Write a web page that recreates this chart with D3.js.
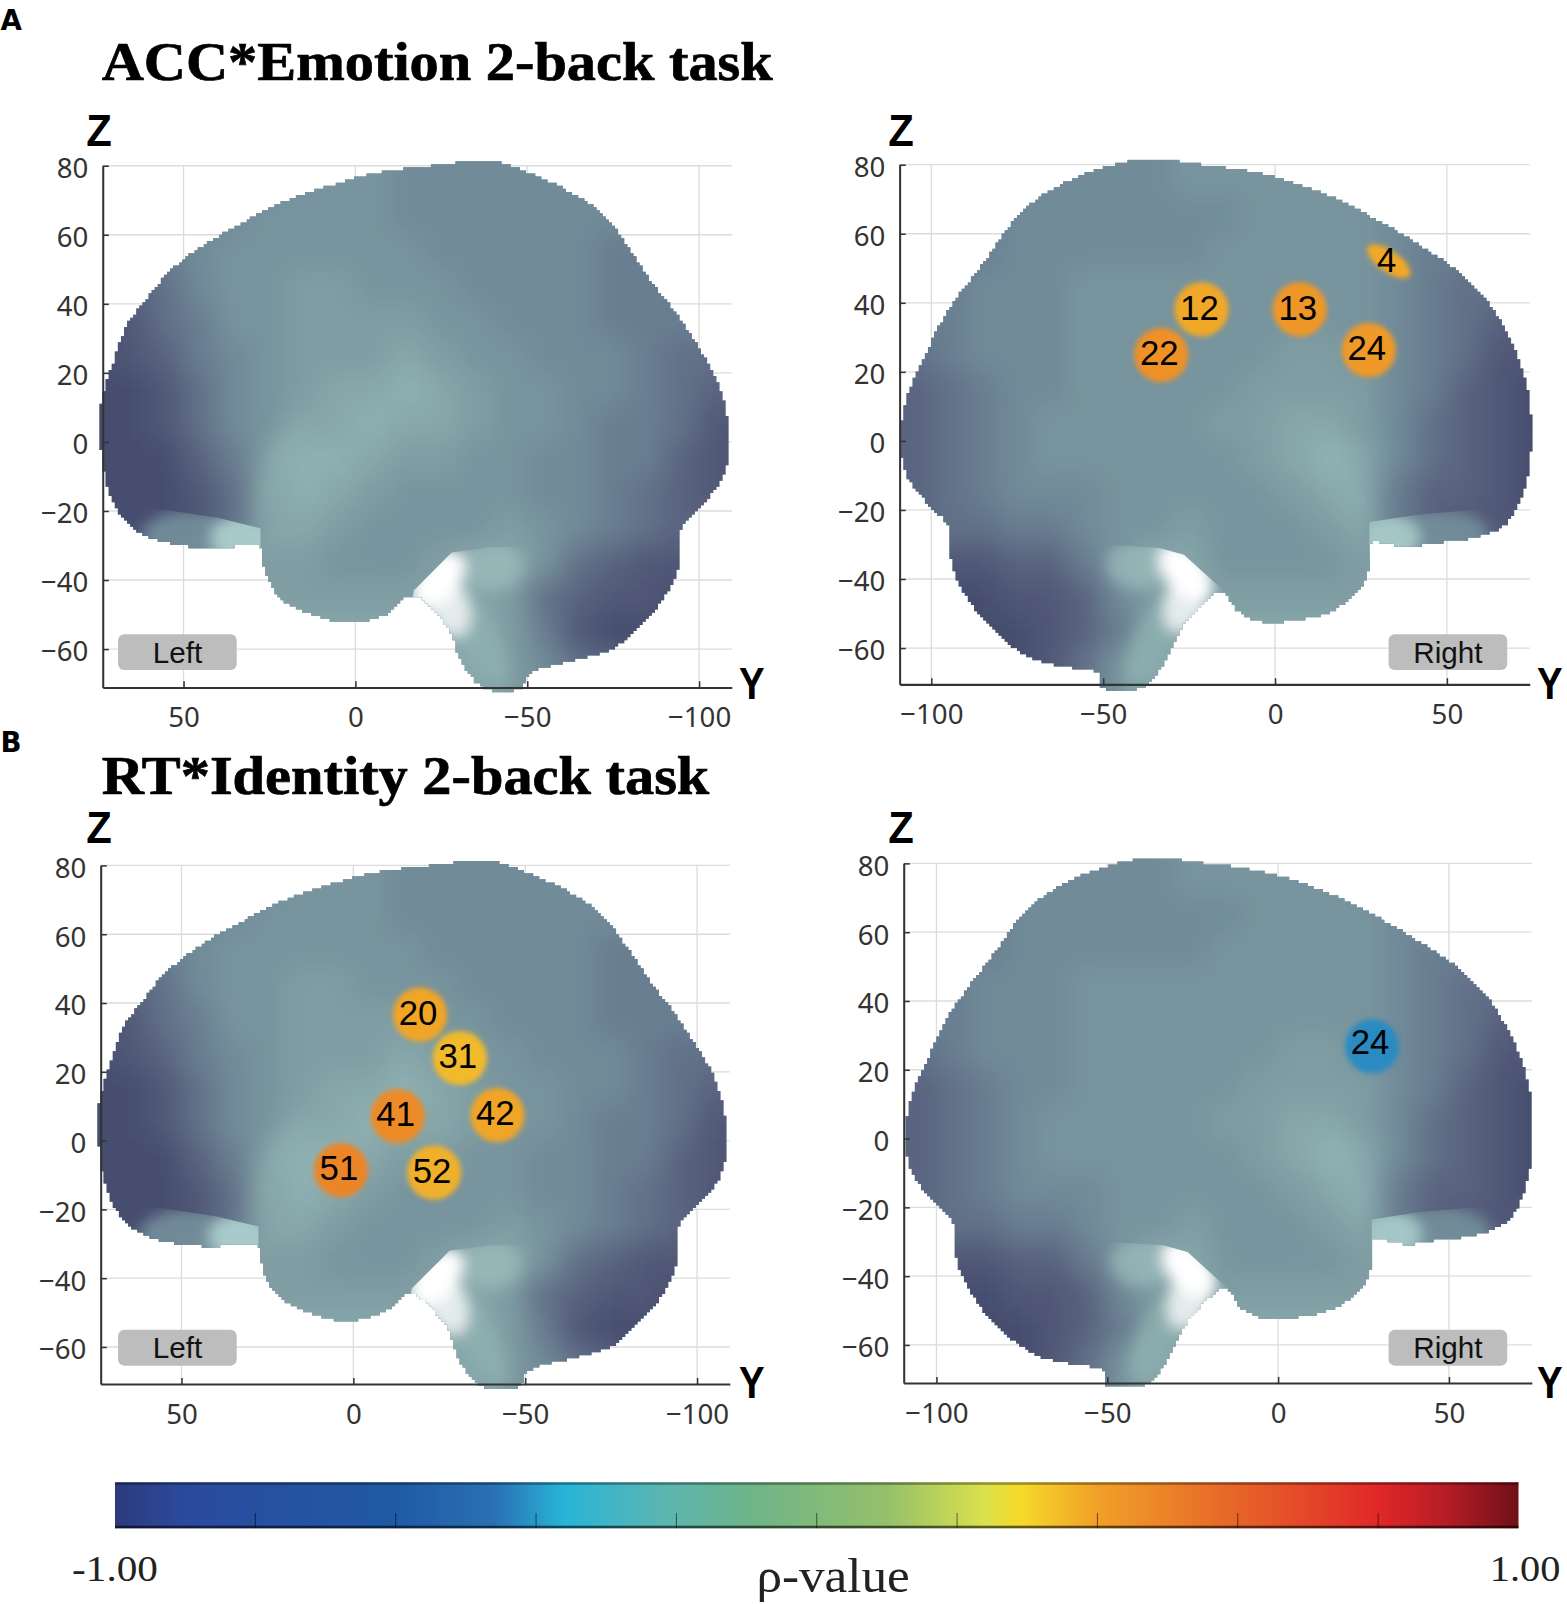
<!DOCTYPE html>
<html><head><meta charset="utf-8">
<script src="https://cdn.jsdelivr.net/npm/d3@7"></script>
<style>html,body{margin:0;padding:0;background:#fff}svg{display:block}</style>
</head><body><svg id="c"></svg>
<script>
// ---------- values ----------
const zTicks=[80,60,40,20,0,-20,-40,-60];
const yTicks=[50,0,-50,-100];
// brain outlines as [Y,Z] in mm
const outlineLeft=[[-30.5,81],[-41.4,81],[-51.6,77.5],[-61.8,72.8],[-72,66],[-79.3,56.7],[-86.6,45.9],[-93.9,36.5],[-99.7,27.7],[-104.8,19],[-107.7,9.6],[-108.9,0],[-107.7,-8],[-104,-14.7],[-99,-20],[-94.8,-24.8],[-94.2,-35.5],[-89.5,-45.6],[-82.2,-53.7],[-75,-59.8],[-64.7,-63],[-51,-67],[-48,-71.5],[-37.8,-71.5],[-31.2,-64.5],[-26.8,-53.7],[-16.6,-44.5],[-9.3,-49.7],[0.9,-52.4],[9.6,-51],[21.3,-45.6],[26.4,-37.5],[27.6,-30.6],[42.4,-30.8],[59.2,-28],[67.2,-22.7],[71.6,-14.7],[73.8,-4],[74.2,9.6],[70,24.4],[66.5,33.8],[61.4,40.5],[54.8,48.6],[44.6,56.7],[33,63.4],[19.8,70],[8.2,74],[-6.4,78],[-22.4,80]];
const outlineRight=[[-41,81.2],[-30.2,81.2],[-20.9,80],[-7.9,78.3],[3.6,75.4],[16.5,70.7],[32.4,62.6],[43.9,55.6],[54,48.6],[62.6,39.3],[66.9,32.3],[71.2,23],[74.1,11.3],[74.5,-2.7],[72.7,-13.2],[67.6,-23.7],[59,-27.7],[46.8,-29.5],[38.1,-30.7],[28,-29.5],[27.8,-35.3],[25.2,-42.3],[16.5,-49.3],[3.6,-52.2],[-3.6,-52.4],[-10.8,-49.3],[-15.5,-43.5],[-25.2,-51.6],[-29.5,-58.6],[-33.8,-66.8],[-38.8,-71.5],[-50.4,-71.5],[-51,-67.4],[-59.7,-65.6],[-71.2,-62.7],[-82.7,-54],[-91.4,-42.3],[-94.5,-33],[-95,-24.8],[-101.4,-17.8],[-107.2,-9.7],[-109,-0.3],[-107.5,11.3],[-102.2,24],[-95.7,36.9],[-82.7,54.4],[-75.2,64.9],[-68.3,70.7],[-61.2,74.8],[-51,78.9]];
// surface shade levels, 10 mm cells
const rowZ=[85,75,65,55,45,35,25,15,5,-5,-15,-25,-35,-45,-55,-65,-75];
const colYLeft=[85,75,65,55,45,35,25,15,5,-5,-15,-25,-35,-45,-55,-65,-75,-85,-95,-105,-115];
const colYRight=[-115,-105,-95,-85,-75,-65,-55,-45,-35,-25,-15,-5,5,15,25,35,45,55,65,75,85];
const shadeLeft=[
[5,5,5,5,5,5,5,6,6,6,5,5,5,5,5,5,5,5,5,5,5],
[5,5,5,5,5,5,5,6,6,6,5,5,5,5,5,5,5,5,5,5,5],
[4,4,4,4,5,5,6,6,6,6,5,5,5,5,5,5,5,4,4,4,4],
[3,3,3,4,5,6,6,6,6,6,6,5,5,5,5,5,4,4,4,4,4],
[2,2,2,3,5,6,6,7,7,6,6,6,5,5,5,5,4,4,4,4,4],
[1,1,1,3,4,6,6,7,7,7,7,6,6,5,5,5,4,4,4,4,4],
[0,0,1,2,4,5,6,7,7,7,8,7,6,6,5,5,5,4,3,3,3],
[0,0,0,1,3,5,6,7,8,8,9,8,7,6,6,5,5,4,3,2,2],
[0,0,0,1,3,5,6,8,8,9,8,8,7,6,6,5,4,4,3,1,1],
[0,0,0,0,2,4,7,9,9,8,7,7,6,6,5,5,4,4,2,1,1],
[0,0,0,0,1,3,7,9,8,7,6,6,6,6,5,5,4,3,2,1,1],
[0,0,0,0,1,3,8,8,7,6,6,6,6,7,6,5,4,3,2,2,2],
[2,2,2,3,5,7,7,7,6,6,6,7,8,8,6,3,2,1,1,1,1],
[5,5,5,5,5,6,7,7,7,7,7,8,8,7,3,2,1,1,0,0,0],
[6,6,6,6,6,7,8,8,8,8,8,8,8,7,4,1,0,0,0,0,0],
[7,7,7,7,7,8,8,8,8,8,8,8,8,7,5,3,2,1,0,0,0],
[7,7,7,7,7,8,8,8,8,8,8,8,8,7,5,3,2,1,0,0,0]];
const shadeRight=[
[5,5,5,5,5,5,5,5,5,6,6,6,6,6,5,5,4,4,4,4,4],
[5,5,5,5,5,5,5,5,5,6,6,6,6,6,5,5,4,4,4,4,4],
[4,4,4,4,5,5,5,5,5,5,5,6,6,6,6,5,5,4,4,4,4],
[4,4,4,4,5,5,5,5,5,5,6,6,6,6,6,5,4,4,3,3,3],
[4,4,4,5,5,5,6,6,6,6,6,6,6,6,6,5,4,3,3,2,2],
[4,4,4,5,5,5,6,6,6,6,6,6,6,6,6,5,4,3,2,1,1],
[3,3,4,5,5,5,6,6,6,6,6,6,7,7,6,5,4,3,1,1,1],
[2,2,3,4,5,5,6,6,6,6,6,7,7,7,7,5,4,2,1,0,0],
[2,2,3,4,5,6,6,6,6,6,7,7,8,8,7,5,3,2,1,0,0],
[2,2,3,4,5,6,6,6,6,6,6,7,8,9,8,5,3,2,1,0,0],
[2,2,3,4,5,5,5,6,6,6,6,6,7,8,8,4,2,2,1,0,0],
[2,2,3,3,4,4,5,6,6,7,6,6,6,7,8,4,2,1,1,1,1],
[1,1,1,1,2,2,4,6,8,8,6,6,6,6,7,7,5,4,3,2,2],
[0,0,0,0,1,1,2,5,7,8,7,7,7,7,7,7,6,6,6,6,6],
[0,0,0,0,0,1,2,4,7,8,8,8,8,8,8,8,8,8,8,8,8],
[0,0,0,0,0,1,3,6,8,8,8,8,8,8,8,8,8,8,8,8,8],
[0,0,0,0,0,1,3,6,8,8,8,8,8,8,8,8,8,8,8,8,8]];
// edges that cut the light patches sharply, [Y,Z]
const stemEdgeLeft=[[-17,-43],[-28,-32],[-39,-30.5],[-120,-30],[-120,-80],[-10,-80]];
const stemEdgeRight=[[-15.4,-43],[-26.5,-33],[-33.6,-31],[-50,-30],[-120,-30],[-120,-80],[-10,-80]];
const stripEdgeLeft=[[60,-19],[40,-22],[27.6,-25],[27.6,-35],[75,-35],[75,-19]];
const stripEdgeRight=[[27.4,-23.5],[42,-21.3],[60,-19.8],[75,-20],[75,-35],[27.4,-35]];
// light patches: Y, Z, radius Y, radius Z, tilt, colour, opacity
const stemPatchLeft=[[-40,-36,9,7,0,"#9dbcbc",.7],[-37,-58,5,14,-25,"#8fb0b2",.8],[-27,-47,6,10,-20,"#e4ebeb",1],[-24,-40,10,6,-50,"#ffffff",1]];
const stemPatchRight=[[-40,-36,9,7,0,"#9dbcbc",.7],[-36,-58,5,14,25,"#8db0b0",.8],[-26,-46,6,10,20,"#e4ebeb",1],[-26,-38,10,6,50,"#ffffff",1]];
const stripPatchLeft=[[48,-27,14,7,0,"#748f9b",.9],[33,-28,9,7,0,"#a8caca",1]];
const stripPatchRight=[[48,-27,14,7,0,"#748f9b",.9],[33,-28,9,7,0,"#a4c6c6",1]];
const ridgeLeft=[[22,-8,4,13,20,"#8fb3b3",.55]];
const ridgeRight=[[20,-10,4,13,-20,"#8fb3b3",.5]];
// electrode markers: channel, Y, Z, rho
const ch_A_R=[["12",-21.4,38.1,.385],["13",7.2,38.1,.43],["22",-33.1,24.9,.45],["24",27.3,26.3,.42]];
const ch_B_L=[["20",-19.4,36.6,.39],["31",-31,24,.35],["41",-12.9,7.1,.47],["42",-41.9,7.4,.39],["51",3.6,-8.6,.49],["52",-23.5,-9.3,.37]];
const ch_B_R=[["24",27.5,26.8,-.42]];
const ch_oval=[["4",33.1,52,.385]];
// colour bar
const cbarPos=[0,.05,.2,.27,.32,.39,.45,.55,.62,.645,.7,.78,.9,.95,1];
const cbarCol=["#2d3a7c","#2b4a9e","#1f5aa5","#2a70b4","#28b4d8","#5bb6b2","#6db48a","#95c06a","#dbe14c","#f5da2a","#f0a028","#e87028","#e02828","#b41c26","#6e1018"];
const cbarTicks=[.1,.2,.3,.4,.5,.6,.7,.8,.9];
const panelTitles=["ACC*Emotion 2-back task","RT*Identity 2-back task"];

// ---------- drawing ----------
const W=1531,H=1568;
const svg=d3.select("#c").attr("width",1567).attr("height",1604).attr("viewBox",`0 0 ${W} ${H}`);
const defs=svg.append("defs");
const mkBlur=(id,s)=>defs.append("filter").attr("id",id).attr("filterUnits","userSpaceOnUse")
  .attr("x",-100).attr("y",-100).attr("width",W+200).attr("height",H+200)
  .append("feGaussianBlur").attr("stdDeviation",s);
mkBlur("bBig",13);mkBlur("bMid",7);mkBlur("bSoft",10);mkBlur("bDot",2.4);
const shade=d3.scaleLinear().domain([0,2,5,7,9]).range(["#474e6e","#5a6480","#718b99","#7f9da3","#8fb1b2"]);
const rhoColor=d3.scaleLinear().domain(cbarPos.map(p=>2*p-1)).range(cbarCol);

function stairClip(id,outline,x,y){
  const p=svg.append("path").attr("d",d3.line().x(d=>x(d[0])).y(d=>y(d[1])).curve(d3.curveCatmullRomClosed)(outline));
  const n=p.node(),L=n.getTotalLength(),poly=[];
  for(let i=0;i<L;i+=4){const q=n.getPointAtLength(i);poly.push([q.x,q.y]);}
  p.remove();
  const ext=[d3.extent(poly,d=>d[0]),d3.extent(poly,d=>d[1])],st=3;
  let d="";
  for(let yy=ext[1][0];yy<ext[1][1];yy+=st){
    let start=null;
    for(let xx=ext[0][0]-st;xx<=ext[0][1]+st;xx+=st){
      const inn=d3.polygonContains(poly,[xx+st/2,yy+st/2]);
      if(inn&&start===null)start=xx;
      if(!inn&&start!==null){d+=`M${start} ${yy}H${xx}V${yy+st+.3}H${start}Z`;start=null;}
    }
  }
  defs.append("clipPath").attr("id",id).append("path").attr("d",d);
}

function panel(cfg,i){
  const flip=cfg.side==="L";
  const x=d3.scaleLinear().domain([0,50]).range([cfg.x0,cfg.x50]);
  const y=d3.scaleLinear().domain([0,80]).range([cfg.y0,cfg.y80]);
  const g=svg.append("g");
  const xr=[cfg.left,cfg.right], yb=cfg.bottom, yt=y(80);
  // grid
  const gg=g.append("g").attr("stroke","#dcdcdc").attr("stroke-width",1.3);
  gg.selectAll(".h").data(zTicks).join("line").attr("x1",xr[0]).attr("x2",xr[1]).attr("y1",d=>y(d)).attr("y2",d=>y(d));
  gg.selectAll(".v").data(yTicks).join("line").attr("y1",yt).attr("y2",yb).attr("x1",d=>x(d)).attr("x2",d=>x(d));
  // surface
  const outline=flip?outlineLeft:outlineRight, cols=flip?colYLeft:colYRight, mat=flip?shadeLeft:shadeRight;
  const clipId="brain"+i; stairClip(clipId,outline,x,y);
  const s=g.append("g").attr("clip-path",`url(#${clipId})`);
  s.append("rect").attr("x",x(flip?120:-120)).attr("y",y(90)).attr("width",Math.abs(x(240)-x(0))).attr("height",y(-90)-y(90)).attr("fill",shade(5));
  const cells=s.append("g").attr("filter","url(#bBig)");
  const cw=Math.abs(x(10)-x(0)), ch=Math.abs(y(10)-y(0));
  rowZ.forEach((z,r)=>cols.forEach((c,k)=>{
    cells.append("rect").attr("x",x(c)-cw/2-.5).attr("y",y(z)-ch/2-.5).attr("width",cw+1).attr("height",ch+1).attr("fill",shade(mat[r][k]));
  }));
  const patchLayer=(id,edge,patches,blur)=>{
    let host=s;
    if(edge){
      defs.append("clipPath").attr("id",id).append("path").attr("d",d3.line().x(d=>x(d[0])).y(d=>y(d[1])).curve(d3.curveLinearClosed)(edge));
      host=s.append("g").attr("clip-path",`url(#${id})`);
    }
    host.append("g").attr("filter",`url(#${blur})`).selectAll("ellipse").data(patches).join("ellipse")
      .attr("rx",d=>Math.abs(x(d[2])-x(0))).attr("ry",d=>Math.abs(y(d[3])-y(0)))
      .attr("transform",d=>`translate(${x(d[0])},${y(d[1])}) rotate(${d[4]})`)
      .attr("fill",d=>d[5]).attr("opacity",d=>d[6]);
  };
  patchLayer(null,null,flip?ridgeLeft:ridgeRight,"bSoft");
  patchLayer("stem"+i,flip?stemEdgeLeft:stemEdgeRight,flip?stemPatchLeft:stemPatchRight,"bMid");
  patchLayer("strip"+i,flip?stripEdgeLeft:stripEdgeRight,flip?stripPatchLeft:stripPatchRight,"bMid");
  // axes
  const ax=d3.axisBottom(x).tickValues(yTicks).tickSizeInner(-6).tickSizeOuter(0).tickPadding(20);
  const ay=d3.axisLeft(y).tickValues(zTicks).tickSizeInner(-6).tickSizeOuter(0).tickPadding(14);
  x.domain([x.invert(xr[0]),x.invert(xr[1])]).range(xr);
  y.domain([y.invert(yb),80]).range([yb,yt]);
  const fmt=sel=>{sel.selectAll("path.domain").attr("stroke","#333").attr("stroke-width",2);
    sel.selectAll("line").attr("stroke","#333").attr("stroke-width",1.5);
    sel.selectAll("text").attr("fill","#333").attr("font-family","'Noto Sans','Liberation Sans',sans-serif").attr("font-size",27);};
  g.append("g").attr("transform",`translate(0,${yb})`).call(ax).call(fmt);
  const gy=g.append("g").attr("transform",`translate(${xr[0]},0)`).call(ay).call(fmt);
  gy.selectAll("text").attr("transform","translate(0,3)");
  // markers
  const mk=g.append("g");
  mk.selectAll("circle").data(cfg.ch||[]).join("circle").attr("cx",d=>x(d[1])).attr("cy",d=>y(d[2])).attr("r",26.5).attr("fill",d=>rhoColor(d[3])).attr("filter","url(#bDot)");
  mk.selectAll("ellipse").data(cfg.oval||[]).join("ellipse").attr("rx",25).attr("ry",10.5)
    .attr("transform",d=>`translate(${x(d[1])},${y(d[2])}) rotate(35)`).attr("fill",d=>rhoColor(d[3])).attr("filter","url(#bDot)");
  mk.selectAll("text").data([...(cfg.ch||[]),...(cfg.oval||[])]).join("text").attr("x",d=>x(d[1])-2).attr("y",d=>y(d[2])+10+(cfg.textDy||0)).attr("text-anchor","middle")
    .attr("font-family","'Liberation Sans',Arial,sans-serif").attr("font-size",34).attr("fill","#000").text(d=>d[0]);
  // axis letters
  const big=(t,xx,yy,len)=>g.append("text").attr("x",xx).attr("y",yy).attr("font-family","'Liberation Sans',Arial,sans-serif").attr("font-weight","bold").attr("font-size",44).attr("fill","#000").attr("textLength",len).attr("lengthAdjust","spacingAndGlyphs").text(t);
  big("Z",cfg.zx,cfg.zy,25);big("Y",cfg.yx,cfg.yy,25);
  // badge
  const bx=cfg.badgeX,by=cfg.badgeY;
  g.append("rect").attr("x",bx).attr("y",by).attr("width",116).attr("height",35).attr("rx",6).attr("fill","#bdbdbd");
  g.append("text").attr("x",bx+58).attr("y",by+28).attr("text-anchor","middle").attr("font-family","'Liberation Sans',Arial,sans-serif").attr("font-size",29).attr("fill","#111").text(flip?"Left":"Right");
}

const panels=[
 {side:"L",x0:347,x50:179,y0:432,y80:162,left:100,right:715,bottom:672,zx:84,zy:143,yx:722,yy:683,badgeX:115,badgeY:620},
 {side:"R",x0:1246,x50:1414,y0:431,y80:161,left:879,right:1495,bottom:669,zx:868,zy:143,yx:1502,yy:683,badgeX:1357,badgeY:620,ch:ch_A_R,oval:ch_oval},
 {side:"L",x0:345,x50:177,y0:1115,y80:846,left:98,right:713,bottom:1353,zx:84,zy:824,yx:722,yy:1367,badgeX:115,badgeY:1300,ch:ch_B_L},
 {side:"R",x0:1249,x50:1416,y0:1113,y80:844,left:883,right:1497,bottom:1352,zx:868,zy:824,yx:1502,yy:1367,badgeX:1357,badgeY:1300,ch:ch_B_R,textDy:-3}
];
panels.forEach(panel);

// titles
[[0,99,78],[1,99,776]].forEach(([k,xx,yy])=>svg.append("text").attr("x",xx).attr("y",yy).attr("font-family","'Liberation Serif','Times New Roman',serif").attr("font-weight","bold").attr("font-size",54).attr("fill","#000").attr("stroke","#000").attr("stroke-width",.7).attr("textLength",k?594:656).attr("lengthAdjust","spacingAndGlyphs").text(panelTitles[k]));
[["A",0,29],["B",0,735]].forEach(([t,xx,yy])=>svg.append("text").attr("x",xx).attr("y",yy).attr("font-family","'DejaVu Sans',sans-serif").attr("font-weight","bold").attr("font-size",27).attr("fill","#000").text(t));

// colour bar
const cb=d3.scaleLinear().domain([-1,1]).range([112,1484]);
const grad=defs.append("linearGradient").attr("id","cbar");
grad.selectAll("stop").data(cbarPos).join("stop").attr("offset",d=>d).attr("stop-color",(d,i)=>cbarCol[i]);
const barTop=1449,barBot=1494;
svg.append("rect").attr("x",cb(-1)).attr("y",barTop).attr("width",cb(1)-cb(-1)).attr("height",barBot-barTop).attr("fill","url(#cbar)");
svg.append("rect").attr("x",cb(-1)).attr("y",barTop).attr("width",cb(1)-cb(-1)).attr("height",2.5).attr("fill","#000").attr("opacity",.35);
svg.append("rect").attr("x",cb(-1)).attr("y",barBot-2.5).attr("width",cb(1)-cb(-1)).attr("height",2.5).attr("fill","#000").attr("opacity",.6);
svg.selectAll(".cbt").data(cbarTicks).join("line").attr("x1",d=>cb(2*d-1)).attr("x2",d=>cb(2*d-1)).attr("y1",barBot).attr("y2",barBot-15).attr("stroke","#000").attr("stroke-opacity",.55).attr("stroke-width",1);
const serif=(t,xx,yy,fs,len)=>svg.append("text").attr("x",xx).attr("y",yy).attr("font-family","'Liberation Serif','Times New Roman',serif").attr("font-size",fs).attr("fill","#222").attr("textLength",len).attr("lengthAdjust","spacingAndGlyphs").text(t);
serif("-1.00",70,1546,36,84);
serif("1.00",1456,1546,36,69);
serif("ρ-value",739,1556,48,150);
</script></body></html>
